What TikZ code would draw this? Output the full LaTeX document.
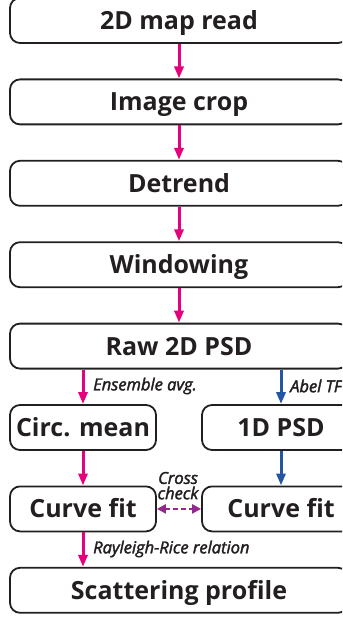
\documentclass[tikz,border=0pt]{standalone}
\usepackage{fontspec}
\setmainfont{Open Sans}
\newfontfamily\labfont[FakeBold=2.2]{Open Sans Italic}
\usetikzlibrary{arrows.meta}
\definecolor{mag}{HTML}{E6007E}
\definecolor{blu}{HTML}{2456A6}
\definecolor{pur}{HTML}{93278F}
\definecolor{edge}{HTML}{231F20}
\tikzset{
  box/.style={draw=edge, line width=1.8pt, rounded corners=10pt, minimum height=45pt, inner sep=0pt,
    font=\fontsize{25}{28}\selectfont\bfseries, text=edge, text height=18pt, text depth=0pt},
  wide/.style={box, minimum width=338pt},
  marr/.style={draw=mag, line width=3pt, -{Triangle[width=9pt,length=12pt]}},
  barr/.style={draw=blu, line width=3pt, -{Triangle[width=9pt,length=12pt]}},
  lab/.style={font=\labfont\fontsize{16.5}{18}\selectfont, text=edge, inner sep=0pt, anchor=west},
}
\begin{document}
\begin{tikzpicture}[x=1pt,y=-1pt]
\useasboundingbox (0,0) rectangle (342,617);
\clip (0,0) rectangle (342,617);
\node[wide] (map) at (179,20.5) {2D map read};
\node[wide] (crop) at (179,101.9) {Image crop};
\node[wide] (det) at (179,183.3) {Detrend};
\node[wide] (win) at (179,264.7) {Windowing};
\node[wide] (raw) at (179,346.1) {Raw 2D PSD};
\node[box, minimum width=146pt] (circ) at (83,427.5) {Circ. mean};
\node[box, minimum width=158pt] (oned) at (281,427.5) {1D PSD};
\node[box, minimum width=146pt] (fitl) at (83,508.9) {Curve fit};
\node[box, minimum width=158pt] (fitr) at (281,508.9) {Curve fit};
\node[wide] (scat) at (179,590.3) {Scattering profile};
\draw[marr] (map.south) -- (crop.north);
\draw[marr] (crop.south) -- (det.north);
\draw[marr] (det.south) -- (win.north);
\draw[marr] (win.south) -- (raw.north);
\draw[marr] (raw.south -| circ.north) -- (circ.north);
\draw[barr] (raw.south -| oned.north) -- (oned.north);
\draw[marr] (circ.south) -- (fitl.north);
\draw[barr] (oned.south) -- (fitr.north);
\draw[marr] (fitl.south) -- (fitl.south |- scat.north);
\draw[draw=pur, line width=2.5pt, dash pattern=on 5pt off 3pt, {Triangle[width=9pt,length=9pt]}-{Triangle[width=9pt,length=9pt]}] (fitl.east) -- (fitr.east -| fitr.west);
\node[lab] (ens) at (93,386) {Ensemble avg.};
\node[lab] (abel) at (290,386) {Abel TF};
\node[lab] (ray) at (93,549) {Rayleigh-Rice relation};
\node[lab, anchor=center] (cross) at (178,478) {Cross};
\node[lab, anchor=center] (check) at (178,493) {check};
\end{tikzpicture}
\end{document}
